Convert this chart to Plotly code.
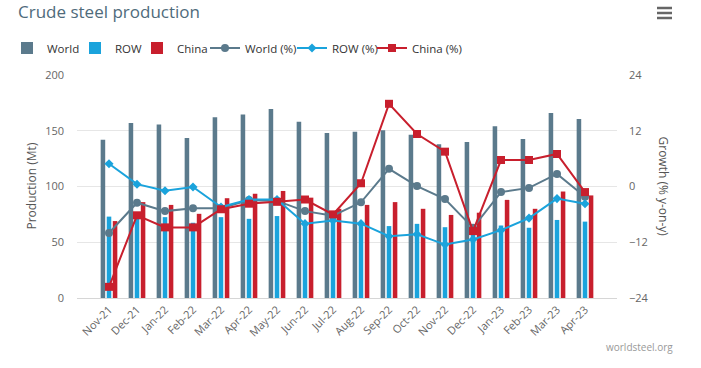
import plotly.graph_objects as go
from plotly.subplots import make_subplots

months = ["Nov-21", "Dec-21", "Jan-22", "Feb-22", "Mar-22", "Apr-22", "May-22", "Jun-22", "Jul-22",
          "Aug-22", "Sep-22", "Oct-22", "Nov-22", "Dec-22", "Jan-23", "Feb-23", "Mar-23", "Apr-23"]
world = [142, 157, 155.5, 143.5, 162, 164.5, 169.5, 158, 148, 149, 150.5, 146.5, 138, 140, 154, 142.5, 166, 160.5]
row = [73, 71, 72.5, 67.5, 72.5, 71, 73.5, 67, 68, 66.5, 64.5, 66.5, 63.5, 63.5, 65, 63, 70, 68.5]
china = [69, 86, 83.5, 75.5, 89.5, 93.5, 96, 90, 80, 83.5, 86, 80, 74.5, 76.5, 88, 80, 95.5, 92]
world_pct = [-10.0, -3.5, -5.3, -4.7, -4.7, -2.9, -3.1, -5.3, -6.3, -3.4, 3.8, 0.1, -2.7, -8.9, -1.2, -0.3, 2.7, -2.2]
row_pct = [4.9, 0.5, -0.9, -0.1, -4.4, -2.8, -2.8, -8.0, -7.3, -8.0, -10.7, -10.3, -12.5, -11.4, -9.4, -6.8, -2.6, -3.7]
china_pct = [-21.6, -6.2, -8.8, -8.8, -4.9, -3.7, -3.3, -2.8, -6.0, 0.7, 17.8, 11.3, 7.5, -9.6, 5.7, 5.7, 7.0, -1.2]

C_WORLD = "#5b7a8c"
C_ROW = "#1aa3dc"
C_CHINA = "#c81f2d"

L, R, T, B = 77, 84, 75, 70
PW = 701 - L - R
PH = 368 - T - B


def px_x(px):
    return (px - L) / PW


def px_y(py):
    return (368 - B - py) / PH


fig = make_subplots(specs=[[{"secondary_y": True}]])

fig.add_trace(go.Bar(x=months, y=world, name="World", marker_color=C_WORLD, marker_line_width=0,
                     legend="legend"), secondary_y=False)
fig.add_trace(go.Bar(x=months, y=row, name="ROW", marker_color=C_ROW, marker_line_width=0,
                     legend="legend2"), secondary_y=False)
fig.add_trace(go.Bar(x=months, y=china, name="China", marker_color=C_CHINA, marker_line_width=0,
                     legend="legend3"), secondary_y=False)

fig.add_trace(go.Scatter(x=months, y=world_pct, name="World (%)", mode="lines+markers", legend="legend4",
                         line=dict(color=C_WORLD, width=2), marker=dict(symbol="circle", size=8, color=C_WORLD)),
              secondary_y=True)
fig.add_trace(go.Scatter(x=months, y=row_pct, name="ROW (%)", mode="lines+markers", legend="legend5",
                         line=dict(color=C_ROW, width=2), marker=dict(symbol="diamond", size=7, color=C_ROW)),
              secondary_y=True)
fig.add_trace(go.Scatter(x=months, y=china_pct, name="China (%)", mode="lines+markers", legend="legend6",
                         line=dict(color=C_CHINA, width=2), marker=dict(symbol="square", size=8, color=C_CHINA)),
              secondary_y=True)

font = "Open Sans, DejaVu Sans, sans-serif"

legend_text_starts = [45, 113, 175, 243, 330, 410]
legend_style = dict(orientation="h", xanchor="left", yanchor="middle", y=px_y(48),
                    font=dict(size=11.5, color="#333333", family=font), bgcolor="rgba(0,0,0,0)",
                    borderwidth=0, itemclick=False, itemdoubleclick=False)
legends = {}
for i, ts in enumerate(legend_text_starts):
    key = "legend" if i == 0 else f"legend{i + 1}"
    legends[key] = dict(legend_style, x=px_x(ts - 38))

fig.update_layout(
    width=701, height=368,
    margin=dict(l=L, r=R, t=T, b=B, autoexpand=False),
    paper_bgcolor="white", plot_bgcolor="white",
    barmode="group", bargap=0.35, bargroupgap=0.25,
    font=dict(family=font, size=11, color="#666666"),
    title=dict(text="Crude steel production", x=18 / 701, xanchor="left", y=1 - 12 / 368, yanchor="middle",
               font=dict(size=17, color="#4f6b7b", family=font)),
    showlegend=True,
    hovermode=False,
    **legends,
)

fig.update_xaxes(type="category", tickangle=-45, tickfont=dict(size=11, color="#666666"), domain=[0, 1],
                 showgrid=False, showline=True, linecolor="#d6d6d6", linewidth=1, ticks="", automargin=False)
fig.update_yaxes(range=[0, 200], dtick=50, showgrid=True, gridcolor="#e6e6e6", zeroline=False,
                 tickfont=dict(size=11, color="#666666"), ticks="", ticklabelstandoff=12,
                 automargin=False, secondary_y=False)
fig.update_yaxes(range=[-24, 24], dtick=12, showgrid=False, zeroline=False,
                 tickfont=dict(size=11, color="#666666"), ticks="", ticklabelstandoff=11,
                 automargin=False, secondary_y=True)

fig.add_annotation(text="Production (Mt)", xref="paper", yref="paper", x=px_x(31), xanchor="center",
                   y=0.5, yanchor="middle",
                   textangle=-90, showarrow=False, font=dict(size=12, color="#555555", family=font))
fig.add_annotation(text="Growth (% y-on-y)", xref="paper", yref="paper", x=px_x(663), xanchor="center",
                   y=0.5, yanchor="middle",
                   textangle=90, showarrow=False, font=dict(size=12, color="#555555", family=font))
fig.add_annotation(text="worldsteel.org", xref="paper", yref="paper", x=px_x(675), xanchor="right",
                   y=px_y(347), yanchor="middle", showarrow=False,
                   font=dict(size=10, color="#999999", family=font))

# menu icon
for py in (8, 13, 18):
    fig.add_shape(type="line", xref="paper", yref="paper",
                  x0=px_x(657), x1=px_x(672), y0=px_y(py), y1=px_y(py),
                  line=dict(color="#666666", width=2.5))

fig.write_html("out.html", config={"displayModeBar": False},
               post_script="document.body.style.margin='0';")
